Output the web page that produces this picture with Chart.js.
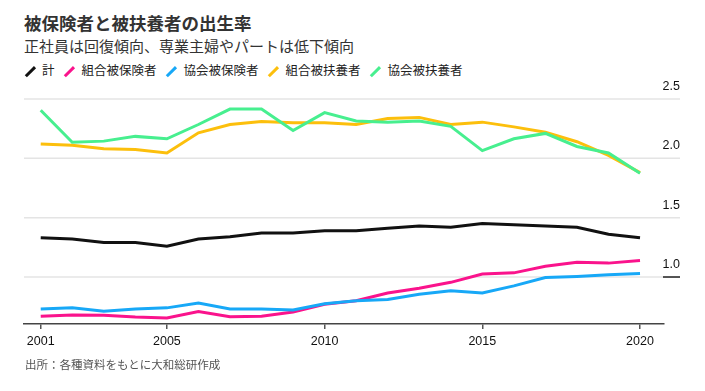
<!DOCTYPE html>
<html>
<head>
<meta charset="utf-8">
<script src="https://cdn.jsdelivr.net/npm/chart.js@4.4.1/dist/chart.umd.min.js"></script>
<style>
html,body{margin:0;padding:0;background:#fff;}
body{width:705px;height:391px;position:relative;overflow:hidden;font-family:"Liberation Sans","Noto Sans CJK JP",sans-serif;}
#title{position:absolute;left:24px;top:15px;font-size:17.5px;line-height:19px;font-weight:bold;color:#333;white-space:nowrap;}
#subtitle{position:absolute;left:24px;top:39px;font-size:15px;line-height:16px;color:#333;white-space:nowrap;}
#legend{position:absolute;left:25px;top:63px;height:16px;display:flex;align-items:center;font-size:12.5px;line-height:16px;color:#222;white-space:nowrap;}
#legend .mark{display:inline-block;width:10px;height:16px;position:relative;margin-right:7px;}
#legend .mark span{position:absolute;left:3.75px;top:1.5px;width:2.5px;height:13px;transform:rotate(45deg);}
#legend .item{display:flex;align-items:center;margin-right:10px;}
#source{position:absolute;left:25px;top:358px;font-size:11.5px;line-height:14px;color:#555;white-space:nowrap;}
#c{position:absolute;left:0;top:0;}
</style>
</head>
<body>
<div id="title">被保険者と被扶養者の出生率</div>
<div id="subtitle">正社員は回復傾向、専業主婦やパートは低下傾向</div>
<div id="legend"></div>
<canvas id="c" width="705" height="391"></canvas>
<div id="source">出所：各種資料をもとに大和総研作成</div>
<script>
//data

const years = [2001,2002,2003,2004,2005,2006,2007,2008,2009,2010,2011,2012,2013,2014,2015,2016,2017,2018,2019,2020];
const total = [1.33,1.32,1.29,1.29,1.26,1.32,1.34,1.37,1.37,1.39,1.39,1.41,1.43,1.42,1.45,1.44,1.43,1.42,1.36,1.33];
const kumiaiInsured = [0.67,0.68,0.678,0.663,0.655,0.71,0.665,0.67,0.705,0.77,0.80,0.865,0.905,0.955,1.025,1.035,1.09,1.125,1.117,1.14];
const kyokaiInsured = [0.73,0.74,0.712,0.73,0.74,0.78,0.73,0.73,0.722,0.775,0.80,0.81,0.855,0.885,0.865,0.925,0.995,1.005,1.02,1.03];
const kumiaiDependent = [2.12,2.11,2.08,2.075,2.045,2.215,2.285,2.31,2.30,2.30,2.285,2.335,2.345,2.285,2.305,2.265,2.22,2.14,2.025,1.88];
const kyokaiDependent = [2.405,2.135,2.145,2.185,2.165,2.285,2.415,2.415,2.235,2.385,2.315,2.305,2.315,2.27,2.065,2.165,2.21,2.10,2.045,1.875];

const seriesNames = ['計','組合被保険者','協会被保険者','組合被扶養者','協会被扶養者'];
const seriesValues = [total, kumiaiInsured, kyokaiInsured, kumiaiDependent, kyokaiDependent];
const seriesColors = ['#111111','#fa138c','#17a8f7','#fcbf0c','#47ef8f'];
const xTicks = [2001,2005,2010,2015,2020];
const yTicks = [1.0,1.5,2.0,2.5];

//legend

const legend = document.getElementById('legend');
seriesNames.forEach((name, i) => {
  const item = document.createElement('div');
  item.className = 'item';
  item.innerHTML = '<span class="mark"><span style="background:' + seriesColors[i] + '"></span></span>' + name;
  legend.appendChild(item);
});

//grid lines + y labels drawn off the y scale, extending past the plot on the right
const gridPlugin = {
  id: 'gridPlugin',
  beforeDatasetsDraw(chart) {
    const ctx = chart.ctx;
    const y = chart.scales.y;
    const area = chart.chartArea;
    const gridRight = area.right + 16;
    ctx.save();
    yTicks.forEach(v => {
      const py = y.getPixelForValue(v);
      ctx.strokeStyle = '#e4e4e4';
      ctx.lineWidth = 1.5;
      ctx.beginPath();
      ctx.moveTo(area.left, py);
      ctx.lineTo(gridRight, py);
      ctx.stroke();
      if (v === 1.0) {
        ctx.strokeStyle = '#222';
        ctx.beginPath();
        ctx.moveTo(area.right - 1, py);
        ctx.lineTo(gridRight, py);
        ctx.stroke();
      }
      ctx.fillStyle = '#111';
      ctx.font = '12.5px "Liberation Sans"';
      ctx.textAlign = 'right';
      ctx.textBaseline = 'middle';
      ctx.fillText(v.toFixed(1), gridRight, py - 12.5);
    });
    ctx.restore();
  }
};

const datasets = seriesNames.map((name, i) => ({
  label: name,
  data: seriesValues[i],
  borderColor: seriesColors[i],
  backgroundColor: seriesColors[i],
  borderWidth: 3,
  pointRadius: 0,
  tension: 0,
  fill: false,
  order: seriesNames.length - i
}));

const ctx = document.getElementById('c').getContext('2d');
const chart = new Chart(ctx, {
  type: 'line',
  data: { labels: years, datasets: datasets },
  plugins: [gridPlugin],
  options: {
    responsive: false,
    animation: false,
    devicePixelRatio: 1,
    layout: { padding: { left: 24, right: 41, top: 99, bottom: 37 } },
    plugins: { legend: { display: false }, tooltip: { enabled: false } },
    scales: {
      x: {
        type: 'linear',
        min: 2000.47,
        max: 2020.76,
        afterBuildTicks: axis => { axis.ticks = xTicks.map(v => ({ value: v })); },
        ticks: {
          color: '#111',
          font: { family: 'Liberation Sans', size: 12.5, lineHeight: 1.2 },
          padding: 5,
          maxRotation: 0,
          callback: v => String(v)
        },
        grid: { drawOnChartArea: false, drawTicks: true, tickLength: 5, color: '#555', lineWidth: 1.5 },
        border: { display: true, color: '#444', width: 1.5 }
      },
      y: {
        display: false,
        min: 0.604,
        max: 2.5
      }
    }
  }
});
</script>
</body>
</html>
